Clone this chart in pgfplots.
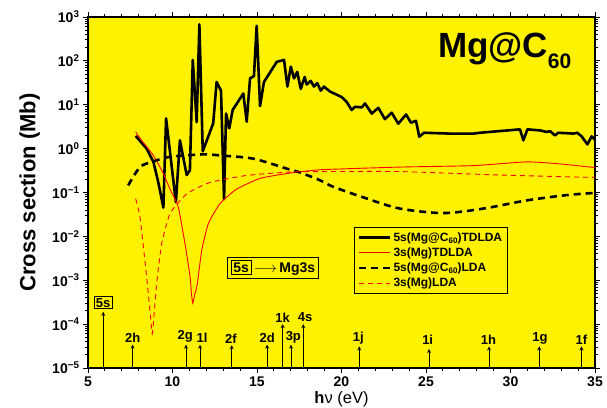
\documentclass[border=0pt]{standalone}
\usepackage{pgfplots}
\pgfplotsset{compat=1.18}
\usepackage{fontspec}
\setmainfont{Liberation Sans}
\usetikzlibrary{arrows.meta}

\pgfplotstableread{
x y
7.82 1.95
8.47 1.0
8.87 0.5
9.16 0.17
9.46 0.045
9.62 4.9
10.2 0.06
10.44 1.55
10.84 0.25
11.03 0.32
11.2 105
11.43 4
11.59 680
11.79 0.87
12.41 3.8
12.61 33
12.87 21
13.05 0.07
13.17 6.3
13.36 2.9
13.56 7.6
14.19 18
14.39 4.1
14.59 40
14.82 45
14.98 630
15.18 9.3
15.41 33
16.17 95
16.6 105
16.8 26
17.0 74
17.19 40
17.38 56
17.59 23
17.82 43
17.94 29
18.18 35
18.37 26
18.57 31
18.77 21
18.96 26
19.32 20
20.01 15
20.3 11.7
20.6 7.6
20.8 9
21.2 8.7
21.39 10.7
21.79 6.3
22.18 8.5
22.57 4.7
22.97 6.6
23.36 3.7
23.82 6
24.11 3.9
24.41 4.3
24.6 1.87
24.88 2.3
26.42 2.2
27.8 2.2
28.2 2.3
30.56 2.75
30.76 1.55
31.0 2.75
31.75 2.6
32.14 2.4
32.34 2.5
32.63 2.0
32.83 2.3
33.72 2.2
33.95 2.3
34.21 1.9
34.55 1.25
34.8 1.9
35 1.6
}\tdldaC

\pgfplotstableread{
x y
7.82 2.4
8.2 1.5
8.87 0.7
9.46 0.27
9.85 0.12
10.34 0.047
10.74 0.0068
11.04 0.0012
11.12 0.0005
11.2 0.0003
11.3 0.00045
11.47 0.00083
11.73 0.0048
12.12 0.0195
12.81 0.056
13.8 0.12
15.18 0.21
16.76 0.27
18.73 0.33
23.46 0.38
27.8 0.41
30.95 0.5
32.9 0.45
35 0.37
}\tdldaMg

\pgfplotstableread{
x y
7.38 0.145
8.08 0.38
8.87 0.51
9.85 0.65
11.82 0.74
12.81 0.70
14.78 0.59
16.76 0.35
17.5 0.29
18.73 0.19
19.51 0.135
21.49 0.073
23.46 0.043
26.02 0.034
28.39 0.043
30.95 0.066
33.3 0.087
35 0.098
}\ldaC

\pgfplotstableread{
x y
7.82 0.072
8.08 0.027
8.47 0.0012
8.7 0.00015
8.8 0.00006
8.9 0.00015
9.06 0.00083
9.36 0.0068
9.85 0.033
10.84 0.093
12.22 0.17
14.39 0.245
16.76 0.29
18.73 0.30
23.46 0.30
29.4 0.25
35 0.22
}\ldaMg

\begin{document}
\begin{tikzpicture}
\begin{semilogyaxis}[
  at={(0pt,0pt)}, anchor=south west,
  scale only axis, width=507pt, height=351pt,
  xmin=5, xmax=35, ymin=1e-5, ymax=1e3,
  axis background/.style={fill=yellow},
  axis line style={line width=1.5pt},
  tick align=outside, tick pos=both,
  major tick length=5pt, minor tick length=3pt,
  every tick/.style={black, line width=0.9pt},
  xtick={5,10,...,35}, minor x tick num=4,
  ytick={1e-5,1e-4,1e-3,1e-2,1e-1,1e0,1e1,1e2,1e3},
  yticklabels={10\textsuperscript{−5},10\textsuperscript{−4},10\textsuperscript{−3},10\textsuperscript{−2},10\textsuperscript{−1},10\textsuperscript{0},10\textsuperscript{1},10\textsuperscript{2},10\textsuperscript{3}},
  /pgf/number format/assume math mode=true,
  ticklabel style={font=\bfseries\fontsize{14}{14}\selectfont},
  xticklabel style={yshift=0pt},
  ylabel={\bfseries Cross section (Mb)},
  ylabel style={at={(axis description cs:-0.115,0.5)}, anchor=center, rotate=0, font=\fontsize{22}{22}\selectfont},
  xlabel={\textbf{h}ν (eV)},
  xlabel style={at={(axis description cs:0.5,-0.066)}, anchor=north, inner sep=0pt, font=\fontsize{16.5}{16.5}\selectfont},
  legend style={at={(0.525,0.402)}, anchor=north west, draw=black, line width=1pt, fill=yellow,
    font=\bfseries\fontsize{12}{13}\selectfont, inner xsep=3pt, inner ysep=3pt, row sep=1pt},
  legend cell align=left,
  legend image code/.code={\draw[#1] (0cm,0cm) -- (1.1cm,0cm);},
]
\addplot[black, line width=2.6pt, line join=round] table[x=x,y=y]{\tdldaC};
\addlegendentry{5s(Mg@C\raisebox{-2pt}{\fontsize{8}{8}\selectfont 60})TDLDA}
\addplot[red, line width=0.9pt, smooth, tension=0.3] table[x=x,y=y]{\tdldaMg};
\addlegendentry{3s(Mg)TDLDA}
\addplot[black, line width=2.6pt, dash pattern=on 7pt off 5pt, smooth] table[x=x,y=y]{\ldaC};
\addlegendentry{5s(Mg@C\raisebox{-2pt}{\fontsize{8}{8}\selectfont 60})LDA}
\addplot[red, line width=0.9pt, dash pattern=on 5pt off 4pt, smooth, tension=0.3] table[x=x,y=y]{\ldaMg};
\addlegendentry{3s(Mg)LDA}

% level arrows
\pgfplotsset{lvl/.style={black, line width=0.8pt, -{Stealth[length=4pt,width=4pt]}, forget plot}}
\addplot[lvl] coordinates {(5.9,1e-5) (5.9,1.9e-4)};
\addplot[lvl] coordinates {(7.64,1e-5) (7.64,3.4e-5)};
\addplot[lvl] coordinates {(10.8,1e-5) (10.8,3.4e-5)};
\addplot[lvl] coordinates {(11.63,1e-5) (11.63,3.4e-5)};
\addplot[lvl] coordinates {(13.5,1e-5) (13.5,3.3e-5)};
\addplot[lvl] coordinates {(15.6,1e-5) (15.6,3.4e-5)};
\addplot[lvl] coordinates {(16.52,1e-5) (16.52,1e-4)};
\addplot[lvl] coordinates {(17.01,1e-5) (17.01,3.4e-5)};
\addplot[lvl] coordinates {(17.74,1e-5) (17.74,1e-4)};
\addplot[lvl] coordinates {(21.05,1e-5) (21.05,3.1e-5)};
\addplot[lvl] coordinates {(25.18,1e-5) (25.18,2.7e-5)};
\addplot[lvl] coordinates {(28.73,1e-5) (28.73,3.1e-5)};
\addplot[lvl] coordinates {(31.7,1e-5) (31.7,3.1e-5)};
\addplot[lvl] coordinates {(34.2,1e-5) (34.2,3.1e-5)};

\begin{scope}[every node/.style={font=\bfseries\fontsize{13}{13}\selectfont, anchor=south, inner sep=1pt}]
\node[draw, line width=0.8pt, inner sep=1.5pt] at (axis cs:5.9,2.2e-4) {5s};
\node at (axis cs:7.64,3.6e-5) {2h};
\node at (axis cs:10.75,3.6e-5) {2g};
\node at (axis cs:11.75,3.6e-5) {1l};
\node at (axis cs:13.45,3.4e-5) {2f};
\node at (axis cs:15.6,3.6e-5) {2d};
\node at (axis cs:16.52,1.05e-4) {1k};
\node at (axis cs:17.15,3.5e-5) {3p};
\node at (axis cs:17.85,1.05e-4) {4s};
\node at (axis cs:21.0,3.3e-5) {1j};
\node at (axis cs:25.1,3.3e-5) {1i};
\node at (axis cs:28.7,3.3e-5) {1h};
\node at (axis cs:31.75,3.3e-5) {1g};
\node at (axis cs:34.2,3.3e-5) {1f};
\end{scope}

\node[draw, line width=1pt, inner sep=3pt, font=\bfseries\fontsize{14}{14}\selectfont]
  at (rel axis cs:0.365,0.286)
  {\setlength{\fboxsep}{1.5pt}\setlength{\fboxrule}{1pt}\fbox{5s}\,$\longrightarrow$\,Mg3s};

\node[anchor=base west, inner sep=0pt, font=\bfseries\fontsize{35}{35}\selectfont]
  at (rel axis cs:0.690,0.886) {Mg@C\raisebox{-11pt}{\fontsize{21}{21}\selectfont 60}};
\end{semilogyaxis}
\pgfresetboundingbox
\path[use as bounding box] (-88pt,-39pt) rectangle (519pt,368pt);
\end{tikzpicture}
\end{document}
